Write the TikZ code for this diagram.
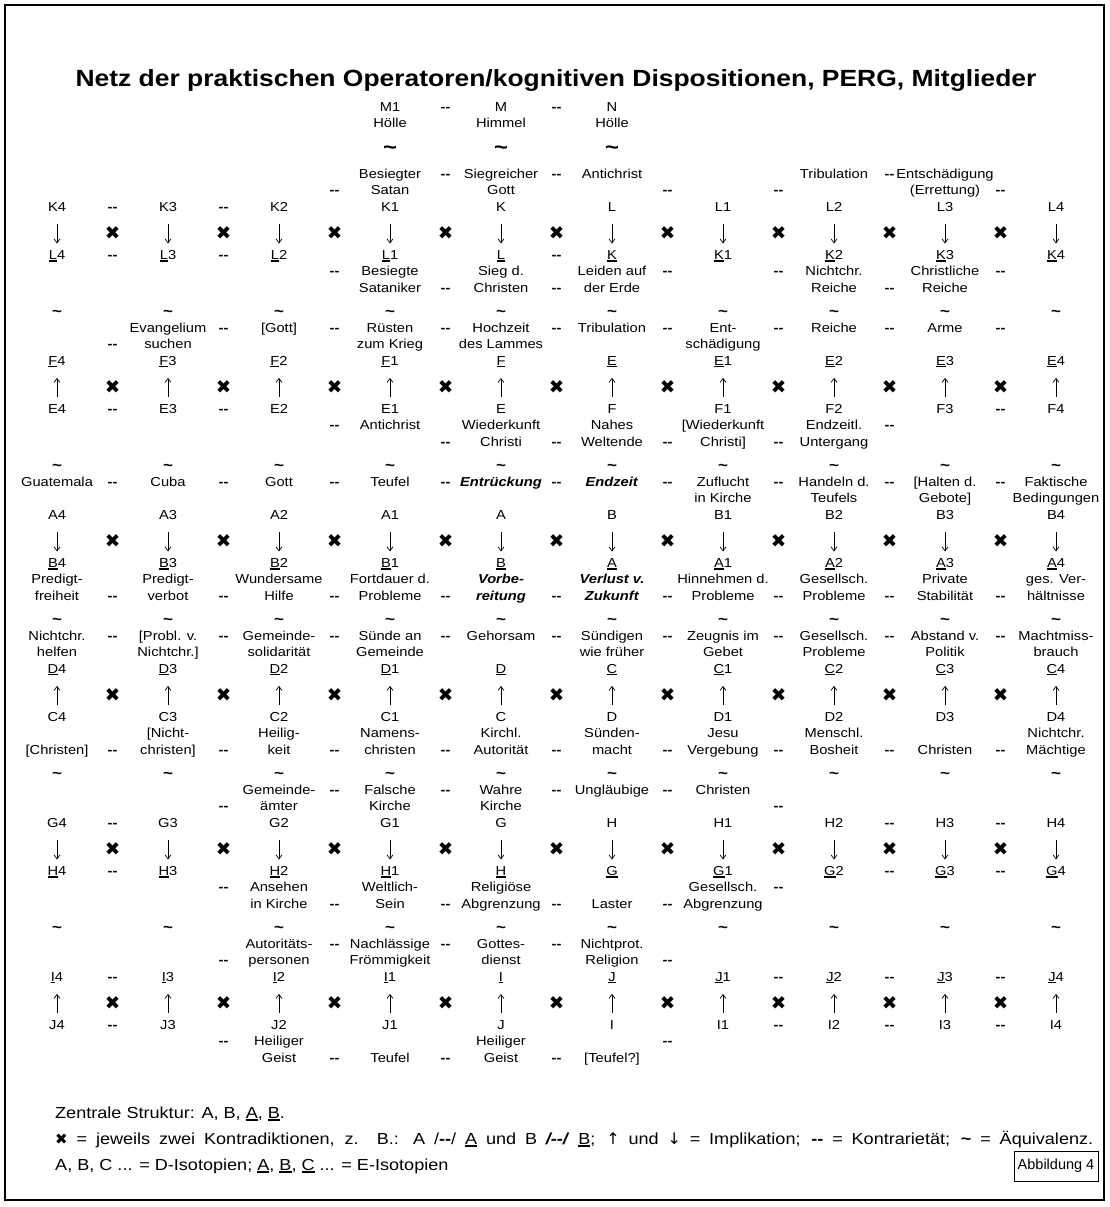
\documentclass[tikz,border=0pt]{standalone}
\usepackage{fontspec}
\setmainfont{Liberation Sans}[FakeStretch=1.13]
\newfontfamily\djv{DejaVu Sans}
\newfontfamily\plainsans{Liberation Sans}
\usetikzlibrary{arrows.meta}
\newsavebox\ulbox
\newcommand\ul[1]{\sbox\ulbox{#1}\rlap{\rule[-2pt]{\wd\ulbox}{1.2pt}}\usebox\ulbox}
\newcommand\bfit[1]{\textbf{\textit{#1}}}
\newcounter{nn}
\tikzset{
  tx/.style={anchor=mid,yshift=-4pt,inner sep=0pt,text height=9.5pt,text depth=3pt,font=\fontsize{13}{16}\selectfont},
  dsh/.style={anchor=mid,yshift=-4pt,inner sep=0pt,font=\fontsize{13}{16}\selectfont\bfseries},
  tld/.style={anchor=base,inner sep=0pt,font=\fontsize{15}{18}\selectfont\bfseries},
  bigtld/.style={anchor=base,inner sep=0pt,font=\fontsize{21}{24}\selectfont\bfseries},
  crs/.style={anchor=center,yshift=-3pt,inner sep=0pt,font=\fontsize{18.5}{20}\selectfont\djv},
  imp/.style={-{Straight Barb[length=4pt,width=6pt]},line width=0.7pt},
  lg/.style={anchor=mid west,inner sep=0pt,font=\fontsize{16}{19}\selectfont},
}
\newcommand\Tx[3]{\stepcounter{nn}\node[tx] (t\number\value{nn}) at ({57+111*(#1)},#2) {#3};}
\newcommand\Tw[4]{\Tx{#1}{#2}{#3}\Tx{#1}{#2+16.5}{#4}}
\newcommand\Dd[2]{\stepcounter{nn}\node[dsh] (d\number\value{nn}) at ({112.5+111*(#1)},#2) {-{}-};}
\newcommand\Dds[2]{\foreach \j in {#1} {\Dd{\j}{#2}}}
\newcommand\Tl[2]{\stepcounter{nn}\node[tld] (w\number\value{nn}) at ({57+111*(#1)},#2+9) {\textasciitilde};}
\newcommand\Tls[1]{\foreach \j in {0,...,9} {\Tl{\j}{#1}}}
\newcommand\Crs[1]{\foreach \j in {0,...,8} {\stepcounter{nn}\node[crs] (x\number\value{nn}) at ({112.5+111*\j},#1) {✖};}}
\newcommand\Lrow[4]{%
  \foreach \s [count=\i from 0] in {4,3,2,1,{}} {\node[tx] (#1\i) at ({57+111*\i},#2) {#3\s};}%
  \foreach \s [count=\i from 5] in {{},1,2,3,4} {\node[tx] (#1\i) at ({57+111*\i},#2) {#4\s};}}
\newcommand\Urow[4]{%
  \foreach \s [count=\i from 0] in {4,3,2,1,{}} {\node[tx] (#1\i) at ({57+111*\i},#2) {\ul{#3}\s};}%
  \foreach \s [count=\i from 5] in {{},1,2,3,4} {\node[tx] (#1\i) at ({57+111*\i},#2) {\ul{#4}\s};}}
\newcommand\Arrdn[2]{\foreach \i in {0,...,9} {\draw[imp,shorten <=9.5pt,shorten >=6.5pt] (#1\i.south) -- (#2\i.north);}}
\newcommand\Arrup[2]{\foreach \i in {0,...,9} {\draw[imp,shorten <=6.5pt,shorten >=9.5pt] (#2\i.north) -- (#1\i.south);}}
\begin{document}
\begin{tikzpicture}[x=1pt,y=-1pt]
\useasboundingbox (0,0) rectangle (1109,1207);
\draw[line width=1.3pt] (5,5) rectangle (1104,1200);
\node[font=\fontsize{23.4}{27}\selectfont\bfseries] (title) at (556,81) {Netz der praktischen Operatoren/kognitiven Dispositionen, PERG, Mitglieder};
% M row
\Tx{3}{105}{M1} \Tx{4}{105}{M} \Tx{5}{105}{N}
\Tx{3}{121}{Hölle} \Tx{4}{121}{Himmel} \Tx{5}{121}{Hölle}
\Dds{3,4}{105}
\foreach \j in {3,4,5} {\stepcounter{nn}\node[bigtld] (w\number\value{nn}) at ({57+111*\j},154) {\textasciitilde};}
% Block 0
\Tw{3}{171.5}{Besiegter}{Satan}
\Tw{4}{171.5}{Siegreicher}{Gott}
\Tx{5}{171.5}{Antichrist}
\Tx{7}{171.5}{Tribulation}
\Tw{8}{171.5}{Entschädigung}{(Errettung)}
\Dds{3,4,7}{171.5} \Dds{2,5,6,8}{188}
\Lrow{ka}{204.5}{K}{L} \Dds{0,1}{204.5}
\Crs{230.5}
\Urow{kb}{253}{L}{K} \Dds{0,1,4}{253}
\Arrdn{ka}{kb}
\Tw{3}{269}{Besiegte}{Sataniker}
\Tw{4}{269}{Sieg d.}{Christen}
\Tw{5}{269}{Leiden auf}{der Erde}
\Tw{7}{269}{Nichtchr.}{Reiche}
\Tw{8}{269}{Christliche}{Reiche}
\Dds{2,5,6,8}{269} \Dds{3,4,7}{285.5}
\Tls{307}
% Block 1
\Tw{1}{325.5}{Evangelium}{suchen}
\Tx{2}{325.5}{[Gott]}
\Tw{3}{325.5}{Rüsten}{zum Krieg}
\Tw{4}{325.5}{Hochzeit}{des Lammes}
\Tx{5}{325.5}{Tribulation}
\Tw{6}{325.5}{Ent-}{schädigung}
\Tx{7}{325.5}{Reiche}
\Tx{8}{325.5}{Arme}
\Dds{1,2,3,4,5,6,7,8}{325.5} \Dds{0}{342}
\Urow{fa}{358.5}{F}{E}
\Crs{384.5}
\Lrow{fb}{407}{E}{F} \Dds{0,1,8}{407}
\Arrup{fa}{fb}
\Tx{3}{423}{Antichrist}
\Tw{4}{423}{Wiederkunft}{Christi}
\Tw{5}{423}{Nahes}{Weltende}
\Tw{6}{423}{[Wiederkunft}{Christi]}
\Tw{7}{423}{Endzeitl.}{Untergang}
\Dds{2,7}{423} \Dds{3,4,5,6}{439.5}
\Tls{461}
% Block 2
\Tx{0}{479.5}{Guatemala} \Tx{1}{479.5}{Cuba} \Tx{2}{479.5}{Gott} \Tx{3}{479.5}{Teufel}
\Tx{4}{479.5}{\bfit{Entrückung}} \Tx{5}{479.5}{\bfit{Endzeit}}
\Tw{6}{479.5}{Zuflucht}{in Kirche} \Tw{7}{479.5}{Handeln d.}{Teufels}
\Tw{8}{479.5}{[Halten d.}{Gebote]} \Tw{9}{479.5}{Faktische}{Bedingungen}
\Dds{0,...,8}{479.5}
\Lrow{aa}{512.5}{A}{B}
\Crs{538.5}
\Urow{ab}{561}{B}{A}
\Arrdn{aa}{ab}
\Tw{0}{577}{Predigt-}{freiheit} \Tw{1}{577}{Predigt-}{verbot} \Tw{2}{577}{Wundersame}{Hilfe}
\Tw{3}{577}{Fortdauer d.}{Probleme} \Tw{4}{577}{\bfit{Vorbe-}}{\bfit{reitung}}
\Tw{5}{577}{\bfit{Verlust v.}}{\bfit{Zukunft}} \Tw{6}{577}{Hinnehmen d.}{Probleme}
\Tw{7}{577}{Gesellsch.}{Probleme} \Tw{8}{577}{Private}{Stabilität} \Tw{9}{577}{ges. Ver-}{hältnisse}
\Dds{0,...,8}{593.5}
\Tls{615}
% Block 3
\Tw{0}{633.5}{Nichtchr.}{helfen} \Tw{1}{633.5}{[Probl. v.}{Nichtchr.]} \Tw{2}{633.5}{Gemeinde-}{solidarität}
\Tw{3}{633.5}{Sünde an}{Gemeinde} \Tx{4}{633.5}{Gehorsam} \Tw{5}{633.5}{Sündigen}{wie früher}
\Tw{6}{633.5}{Zeugnis im}{Gebet} \Tw{7}{633.5}{Gesellsch.}{Probleme} \Tw{8}{633.5}{Abstand v.}{Politik}
\Tw{9}{633.5}{Machtmiss-}{brauch}
\Dds{0,...,8}{633.5}
\Urow{da}{666.5}{D}{C}
\Crs{692.5}
\Lrow{db}{715}{C}{D}
\Arrup{da}{db}
\Tx{0}{747.5}{[Christen]} \Tw{1}{731}{[Nicht-}{christen]} \Tw{2}{731}{Heilig-}{keit}
\Tw{3}{731}{Namens-}{christen} \Tw{4}{731}{Kirchl.}{Autorität} \Tw{5}{731}{Sünden-}{macht}
\Tw{6}{731}{Jesu}{Vergebung} \Tw{7}{731}{Menschl.}{Bosheit} \Tx{8}{747.5}{Christen}
\Tw{9}{731}{Nichtchr.}{Mächtige}
\Dds{0,...,8}{747.5}
\Tls{769}
% Block 4
\Tw{2}{787.5}{Gemeinde-}{ämter} \Tw{3}{787.5}{Falsche}{Kirche} \Tw{4}{787.5}{Wahre}{Kirche}
\Tx{5}{787.5}{Ungläubige} \Tx{6}{787.5}{Christen}
\Dds{2,3,4,5}{787.5} \Dds{1,6}{804}
\Lrow{ga}{820.5}{G}{H} \Dds{0,7,8}{820.5}
\Crs{846.5}
\Urow{gb}{869}{H}{G} \Dds{0,7,8}{869}
\Arrdn{ga}{gb}
\Tw{2}{885}{Ansehen}{in Kirche} \Tw{3}{885}{Weltlich-}{Sein} \Tw{4}{885}{Religiöse}{Abgrenzung}
\Tx{5}{901.5}{Laster} \Tw{6}{885}{Gesellsch.}{Abgrenzung}
\Dds{1,6}{885} \Dds{2,3,4,5}{901.5}
\Tls{923}
% Block 5
\Tw{2}{941.5}{Autoritäts-}{personen} \Tw{3}{941.5}{Nachlässige}{Frömmigkeit}
\Tw{4}{941.5}{Gottes-}{dienst} \Tw{5}{941.5}{Nichtprot.}{Religion}
\Dds{2,3,4}{941.5} \Dds{1,5}{958}
\Urow{ia}{974.5}{I}{J} \Dds{0,6,7,8}{974.5}
\Crs{1000.5}
\Lrow{ib}{1023}{J}{I} \Dds{0,6,7,8}{1023}
\Arrup{ia}{ib}
\Tw{2}{1039}{Heiliger}{Geist} \Tx{3}{1055.5}{Teufel} \Tw{4}{1039}{Heiliger}{Geist} \Tx{5}{1055.5}{[Teufel?]}
\Dds{1,5}{1039} \Dds{2,3,4}{1055.5}
% Legend
\node[lg] (lg1) at (55,1116) {Zentrale Struktur: A, B, \ul{A}, \ul{B}.};
\node[lg] (lg2) at (55,1142) {\makebox[1038pt][s]{{\djv\fontsize{15}{17}\selectfont ✖} = jeweils zwei Kontradiktionen, z. B.: A /\textbf{-{}-}/ \ul{A} und B \bfit{/-{}-/} \ul{B}; {\djv ↑} und {\djv ↓} = Implikation; \textbf{-{}-} = Kontrarietät; \textbf{\textasciitilde} = Äquivalenz.}};
\node[lg] (lg3) at (55,1168) {A, B, C ... = D-Isotopien; \ul{A}, \ul{B}, \ul{C} ... = E-Isotopien};
\node[draw,line width=0.8pt,inner sep=0pt,minimum width=84pt,minimum height=30pt,font=\fontsize{14.5}{17}\selectfont\plainsans] (abb) at (1056,1166) {Abbildung 4};
\end{tikzpicture}
\end{document}
